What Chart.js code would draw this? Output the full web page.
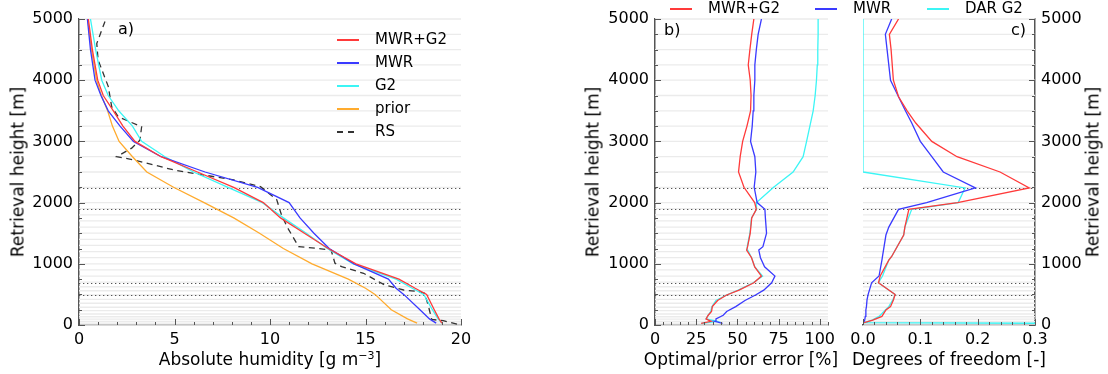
<!DOCTYPE html>
<html><head><meta charset="utf-8">
<script src="https://cdn.jsdelivr.net/npm/chart.js@4.4.1/dist/chart.umd.min.js"></script>
<style>
body{margin:0;background:#fff;width:1108px;height:374px;overflow:hidden;position:relative;font-family:"DejaVu Sans",sans-serif;}
canvas{position:absolute;top:0}
.t{position:absolute;font-size:15px;color:#000;white-space:nowrap;line-height:15px}
.p{position:absolute;font-size:16px;color:#000;white-space:nowrap;line-height:16px}
.ax{position:absolute;font-size:17px;color:#000;white-space:nowrap;line-height:17px;transform:translate(-50%,-50%)}
.ay{position:absolute;font-size:17px;color:#000;white-space:nowrap;line-height:17px;transform:translate(-50%,-50%) rotate(-90deg)}
.ln{position:absolute;height:1.5px}
</style></head><body>
<canvas id="ca" width="480" height="374" style="left:0"></canvas>
<canvas id="cb" width="285" height="374" style="left:560px"></canvas>
<canvas id="cc" width="263" height="374" style="left:845px"></canvas>

<div class="p" style="left:118px;top:21px">a)</div>
<div class="p" style="left:664px;top:22px">b)</div>
<div class="p" style="left:1011px;top:22px">c)</div>

<div class="ax" style="left:270px;top:359px">Absolute humidity [g m<sup style="font-size:11px;vertical-align:6px;line-height:0">&minus;3</sup>]</div>
<div class="ax" style="left:741px;top:359px">Optimal/prior error [%]</div>
<div class="ax" style="left:949px;top:359px">Degrees of freedom [-]</div>
<div class="ay" style="left:18px;top:172px">Retrieval height [m]</div>
<div class="ay" style="left:593px;top:172px">Retrieval height [m]</div>
<div class="ay" style="left:1093px;top:172px">Retrieval height [m]</div>

<div id="legA"></div>
<div id="legBC"></div>

<script>
// ---------- DATA ----------
// panel a) absolute humidity [g m-3] vs retrieval height [m]
const heightsA = [30, 100, 250, 500, 600, 750, 1000, 1250, 1500, 1750, 2000, 2250, 2500, 2750, 3000, 3250, 3500, 3750, 4000, 4500, 5000];
const mwrG2A  = [19.0, 18.85, 18.6, 18.2, 17.6, 16.75, 14.5, 13.05, 11.8, 10.55, 9.65, 8.1, 6.2, 4.3, 2.93, 2.3, 1.8, 1.27, 0.98, 0.7, 0.49];
const mwrA    = [18.7, 18.35, 17.85, 17.0, 16.6, 16.2, 14.4, 13.1, 12.3, 11.57, 11.0, 9.35, 6.6, 4.3, 2.85, 2.15, 1.53, 1.15, 0.84, 0.6, 0.44];
const g2A     = [19.0, 18.8, 18.5, 18.05, 17.45, 16.6, 14.36, 13.0, 11.9, 10.7, 9.6, 7.8, 6.0, 4.5, 3.28, 2.8, 2.08, 1.53, 1.19, 0.87, 0.6];
const priorA  = [17.7, 17.2, 16.35, 15.5, 15.0, 14.1, 12.2, 10.7, 9.45, 8.1, 6.55, 4.95, 3.55, 2.8, 2.1, 1.75, 1.5, 1.17, 0.92, 0.65, 0.46];
const rsHeights = [4960, 4600, 4330, 3900, 3570, 3400, 3240, 3020, 2890, 2750, 2700, 2530, 2370, 2260, 2180, 2050, 1800, 1600, 1280, 1270, 1225, 1010, 953, 845, 654, 572, 545, 518, 300, 90, 70, 0];
const rsValues  = [1.36, 0.93, 1.0, 1.53, 1.71, 2.06, 3.28, 3.19, 2.76, 1.97, 2.84, 5.0, 8.1, 9.5, 9.83, 10.35, 10.6, 10.9, 11.5, 11.92, 13.2, 13.4, 13.75, 14.9, 16.0, 17.0, 17.8, 18.1, 18.3, 18.47, 19.07, 20.0];

// panel b) optimal/prior error [%]
const heightsB = [27, 60, 100, 160, 220, 300, 400, 490, 570, 690, 800, 950, 1100, 1225, 1280, 1500, 1750, 1890, 2000, 2250, 2500, 2750, 3000, 3250, 3500, 3750, 4000, 4250, 4500, 4750, 5000];
const errMwrG2 = [28, 34, 31, 32.3, 34.3, 34.8, 38, 43.5, 51, 60, 64.6, 60.5, 58.6, 55.6, 56.2, 57.8, 58.7, 61.5, 60.5, 54, 50.7, 51.7, 53.2, 55.8, 58, 58.3, 57.8, 56.6, 57.6, 58.7, 60];
const errMwr   = [41, 36.5, 37, 41.4, 43.5, 49, 54.6, 61, 66, 70.8, 72.8, 66.5, 64, 63, 65.5, 67.7, 67, 66.7, 62, 60.2, 61.2, 60.6, 58, 59, 59.6, 60, 60.6, 60.6, 61.5, 62.6, 64.6];
const errDarG2 = [28.3, 37.8, 31, 32.3, 33.8, 34.5, 37, 43.4, 50.5, 59.6, 65.3, 60.6, 58.6, 56.3, 56, 57.6, 58.6, 61.6, 61.6, 72, 83.8, 89.9, 92, 94, 96, 97.2, 98, 98.5, 98.8, 99, 99];

// panel c) degrees of freedom [-]
const heightsC = [38, 80, 140, 245, 300, 410, 500, 690, 800, 1060, 1120, 1470, 1600, 1890, 2000, 2240, 2500, 2750, 3000, 3300, 3500, 3730, 4000, 4500, 4750, 5000];
const dofMwrG2 = [0.002, 0.017, 0.033, 0.040, 0.048, 0.053, 0.056, 0.027, 0.030, 0.045, 0.050, 0.071, 0.073, 0.080, 0.165, 0.290, 0.239, 0.164, 0.120, 0.092, 0.077, 0.062, 0.053, 0.049, 0.046, 0.062];
const dofMwr   = [0.001, 0.003, 0.004, 0.005, 0.006, 0.007, 0.009, 0.015, 0.028, 0.033, 0.034, 0.040, 0.045, 0.062, 0.111, 0.196, 0.140, 0.120, 0.100, 0.085, 0.074, 0.062, 0.048, 0.042, 0.039, 0.050];
const heightsCdar = [10, 38, 80, 140, 245, 300, 410, 500, 690, 800, 1060, 1120, 1470, 1600, 1890, 2000, 2240, 2500, 2750, 3000, 3300, 3500, 3730, 4000, 4500, 4750, 5000];
const dofDarG2 = [0.9, 0.002, 0.016, 0.028, 0.039, 0.045, 0.052, 0.056, 0.027, 0.034, 0.045, 0.050, 0.071, 0.073, 0.085, 0.166, 0.178, 0, 0, 0, 0, 0, 0, 0, 0, 0, 0];

// retrieval grid levels (light lines) and marked levels (dotted)
const gridHeights = [0, 30, 60, 95, 135, 180, 235, 290, 355, 420, 490, 560, 625, 700, 800, 900, 1000, 1100, 1200, 1300, 1400, 1500, 1600, 1700, 1800, 1900, 2000, 2250, 2500, 2750, 3000, 3250, 3500, 3750, 4000, 4250, 4500, 4750, 5000];
const dottedHeights = [2240, 1890, 690, 490];
const yTicks = [0, 1000, 2000, 3000, 4000, 5000];
const xTicksA = [0, 5, 10, 15, 20];
const xTicksB = [0, 25, 50, 75, 100];
const xTicksC = [0, 0.1, 0.2, 0.3];

// ---------- STYLE ----------
const RED = '#ff3a3a', BLUE = '#3a3aff', CYAN = '#3cf5f5', ORANGE = '#ffab2e', RSC = '#333';
const FONT = '"DejaVu Sans", sans-serif';

function pts(xs, hs) { return xs.map((v, i) => ({x: v, y: hs[i]})); }
function ds(label, xs, hs, color, dash) {
  return {label, data: pts(xs, hs), borderColor: color, backgroundColor: color, borderWidth: 1.3,
    borderDash: dash || [], showLine: true, pointRadius: 0, tension: 0, fill: false, clip: 0};
}

const decor = {
  id: 'decor',
  beforeDatasetsDraw(chart, args, o) {
    const {ctx, chartArea: a} = chart; const y = chart.scales.y;
    ctx.save();
    ctx.lineWidth = 1.3; ctx.strokeStyle = '#ebebeb';
    gridHeights.forEach(h => { const p = y.getPixelForValue(h); ctx.beginPath(); ctx.moveTo(a.left, p); ctx.lineTo(a.right, p); ctx.stroke(); });
    ctx.strokeStyle = '#555'; ctx.lineWidth = 1.2; ctx.setLineDash([1.3, 2.7]);
    dottedHeights.forEach(h => { const p = Math.round(y.getPixelForValue(h)) + 0.5; ctx.beginPath(); ctx.moveTo(a.left, p); ctx.lineTo(a.right, p); ctx.stroke(); });
    ctx.restore();
  },
  afterDatasetsDraw(chart, args, o) {
    const {ctx, chartArea: a} = chart; const x = chart.scales.x, y = chart.scales.y;
    ctx.save(); ctx.strokeStyle = '#555'; ctx.lineWidth = 1;
    const nx = Math.round((x.max - x.min) / o.xMinor + 1e-6);
    for (let i = 0; i <= nx; i++) {
      const v = x.min + i * o.xMinor; const r = v / o.xMajor;
      const len = Math.abs(r - Math.round(r)) < 1e-6 ? 6 : 3;
      const p = Math.round(x.getPixelForValue(v)) + 0.5;
      ctx.beginPath(); ctx.moveTo(p, a.bottom); ctx.lineTo(p, a.bottom - len); ctx.stroke();
    }
    for (let i = 0; i <= 20; i++) {
      const v = i * 250; const len = v % 1000 === 0 ? 6 : 3;
      const p = Math.round(y.getPixelForValue(v)) + 0.5;
      ctx.beginPath();
      if (o.ySide === 'right') { ctx.moveTo(a.right, p); ctx.lineTo(a.right - len, p); }
      else { ctx.moveTo(a.left, p); ctx.lineTo(a.left + len, p); }
      ctx.stroke();
    }
    ctx.restore();
  }
};

function axisX(min, max, ticks, fmt) {
  return {type: 'linear', position: 'bottom', min, max,
    afterBuildTicks: s => { s.ticks = ticks.map(v => ({value: v})); },
    afterFit: s => { s.height = 49; },
    grid: {display: false, drawTicks: false}, border: {display: true, color: '#555', width: 1.5},
    ticks: {color: '#000', font: {family: FONT, size: 16}, padding: 5, maxRotation: 0, autoSkip: false,
      callback: v => fmt ? fmt(v) : String(v)},
    title: {display: false}};
}
function axisY(pos, width) {
  return {type: 'linear', position: pos, min: 0, max: 5000,
    afterBuildTicks: s => { s.ticks = yTicks.map(v => ({value: v})); },
    afterFit: s => { s.width = width; },
    grid: {display: false, drawTicks: false}, border: {display: true, color: '#555', width: 1.5},
    ticks: {color: '#000', font: {family: FONT, size: 16}, padding: 6, autoSkip: false, callback: v => String(v)},
    title: {display: false}};
}
function make(id, datasets, xAxis, yAxis, pad, decorOpts) {
  return new Chart(document.getElementById(id), {
    type: 'scatter',
    data: {datasets},
    options: {responsive: false, animation: false, events: [],
      layout: {padding: pad},
      plugins: {legend: {display: false}, tooltip: {enabled: false}, decor: decorOpts},
      scales: {x: xAxis, y: yAxis}},
    plugins: [decor]
  });
}

make('ca', [
  ds('MWR+G2', mwrG2A, heightsA, RED),
  ds('MWR', mwrA, heightsA, BLUE),
  ds('G2', g2A, heightsA, CYAN),
  ds('prior', priorA, heightsA, ORANGE),
  ds('RS', rsValues, rsHeights, RSC, [6, 4.5])
], axisX(0, 20, xTicksA), axisY('left', 79),
  {top: 19, right: 19, left: 0, bottom: 0}, {xMinor: 1, xMajor: 5, ySide: 'left'});

make('cb', [
  ds('MWR+G2', errMwrG2, heightsB, RED),
  ds('MWR', errMwr, heightsB, BLUE),
  ds('DAR G2', errDarG2, heightsB, CYAN)
], axisX(0, 105, xTicksB), axisY('left', 95),
  {top: 19, right: 17, left: 0, bottom: 0}, {xMinor: 5, xMajor: 25, ySide: 'left'});

make('cc', [
  ds('MWR+G2', dofMwrG2, heightsC, RED),
  ds('MWR', dofMwr, heightsC, BLUE),
  ds('DAR G2', dofDarG2, heightsCdar, CYAN)
], axisX(0, 0.3, xTicksC, v => v.toFixed(1)), axisY('right', 73),
  {top: 19, right: 0, left: 18, bottom: 0}, {xMinor: 0.02, xMajor: 0.1, ySide: 'right'});

// ---------- legends (HTML text) ----------
function legend(el, items) {
  const root = document.getElementById(el);
  items.forEach(it => {
    const l = document.createElement('div'); l.className = 'ln';
    const bg = it.dash ? `repeating-linear-gradient(90deg, ${it.c} 0 6px, transparent 6px 11px)` : it.c;
    l.style.cssText = `left:${it.lx}px;top:${it.y - 0.75}px;width:${it.lw}px;background:${bg}`;
    root.appendChild(l);
    const t = document.createElement('div'); t.className = 't'; t.textContent = it.label;
    t.style.left = it.tx + 'px'; t.style.top = (it.y - 8) + 'px';
    root.appendChild(t);
  });
}
legend('legA', [
  {label: 'MWR+G2', c: RED, lx: 337, lw: 22, tx: 375, y: 40},
  {label: 'MWR', c: BLUE, lx: 337, lw: 22, tx: 375, y: 63},
  {label: 'G2', c: CYAN, lx: 337, lw: 22, tx: 375, y: 86},
  {label: 'prior', c: ORANGE, lx: 337, lw: 22, tx: 375, y: 109},
  {label: 'RS', c: RSC, lx: 337, lw: 22, tx: 375, y: 132, dash: true}
]);
legend('legBC', [
  {label: 'MWR+G2', c: RED, lx: 670, lw: 22, tx: 708, y: 9},
  {label: 'MWR', c: BLUE, lx: 815, lw: 22, tx: 853, y: 9},
  {label: 'DAR G2', c: CYAN, lx: 927, lw: 22, tx: 965, y: 9}
]);
</script>
</body></html>
